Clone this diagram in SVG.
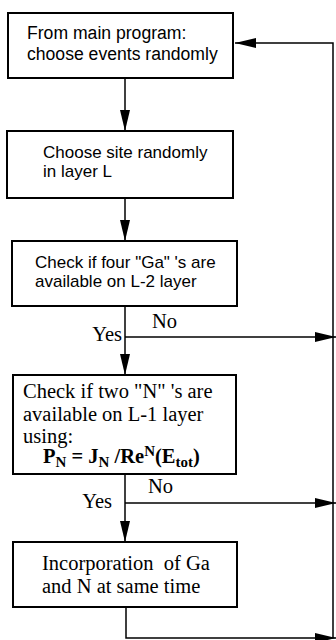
<svg xmlns="http://www.w3.org/2000/svg" width="336" height="640" viewBox="0 0 336 640">
<style>
.box{fill:#fff;stroke:#000;stroke-width:2}
.ln{fill:none;stroke:#000;stroke-width:1.5}
.s{font-family:"Liberation Sans",Arial,sans-serif;font-size:17.6px;fill:#000}
.s2{font-family:"Liberation Sans",Arial,sans-serif;font-size:17px;fill:#000}
.t{font-family:"Liberation Serif","Times New Roman",serif;font-size:20.5px;fill:#000}
.b{font-weight:bold}
</style>
<defs>
<marker id="ahl" viewBox="0 0 21 10" refX="21" refY="5" markerWidth="21" markerHeight="10" markerUnits="userSpaceOnUse" orient="auto" overflow="visible"><path d="M0,0 L21,5 L0,10 Z" fill="#000"/></marker>
</defs>
<g id="connectors">
<path class="ln" d="M125,78 V131" marker-end="url(#ahl)"/>
<path class="ln" d="M125,198 V241" marker-end="url(#ahl)"/>
<path class="ln" d="M125,306 V375" marker-end="url(#ahl)"/>
<path class="ln" d="M125,337 H336" marker-end="url(#ahl)"/>
<path class="ln" d="M125,474 V542" marker-end="url(#ahl)"/>
<path class="ln" d="M125,503 H336" marker-end="url(#ahl)"/>
<path class="ln" d="M126,607 V638 H336" marker-end="url(#ahl)"/>
<path class="ln" d="M333,638 V43 H235" marker-end="url(#ahl)"/>
<text class="t" x="152" y="328">No</text>
<text class="t" x="122" y="341" text-anchor="end">Yes</text>
<text class="t" x="148" y="493">No</text>
<text class="t" x="112" y="508" text-anchor="end">Yes</text>
</g>
<g id="n1">
<rect class="box" x="8" y="13" width="225" height="65"/>
<text class="s" x="27" y="39">From main program:</text>
<text class="s" x="27" y="60">choose events randomly</text>
</g>
<g id="n2">
<rect class="box" x="7" y="131" width="226" height="67"/>
<text class="s2" x="43" y="158">Choose site randomly</text>
<text class="s2" x="43" y="177">in layer L</text>
</g>
<g id="n3">
<rect class="box" x="12" y="241" width="225" height="65"/>
<text class="s2" x="35" y="268">Check if four "Ga" 's are</text>
<text class="s2" x="35" y="287">available on L-2 layer</text>
</g>
<g id="n4">
<rect class="box" x="13" y="375" width="223" height="99"/>
<text class="t" x="23" y="398">Check if two "N" 's are</text>
<text class="t" x="23" y="421">available on L-1 layer</text>
<text class="t" x="23" y="443">using:</text>
<text class="t b" x="43" y="463" font-size="19.5">P<tspan font-size="15" dy="4">N</tspan><tspan dy="-4"> = J</tspan><tspan font-size="15" dy="4">N</tspan><tspan dy="-4"> /Re</tspan><tspan font-size="15" dy="-7">N</tspan><tspan dy="7">(E</tspan><tspan font-size="15" dy="4">tot</tspan><tspan dy="-4">)</tspan></text>
</g>
<g id="n5">
<rect class="box" x="13" y="542" width="224" height="65"/>
<text class="t" x="42" y="570" xml:space="preserve">Incorporation  of Ga</text>
<text class="t" x="42" y="593">and N at same time</text>
</g>
</svg>
